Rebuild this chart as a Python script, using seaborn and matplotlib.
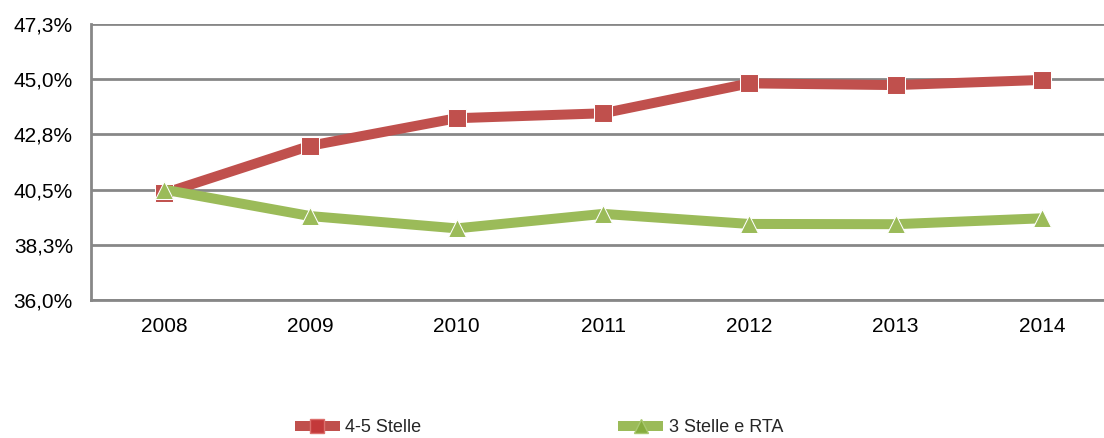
import matplotlib
matplotlib.use("Agg")
import matplotlib.pyplot as plt
import seaborn as sns
import pandas as pd

# Share of presences by hotel category, 2008-2014
years = ["2008", "2009", "2010", "2011", "2012", "2013", "2014"]
stelle_4_5 = [40.35, 42.29, 43.41, 43.61, 44.83, 44.76, 44.97]
stelle_3_rta = [40.50, 39.42, 38.92, 39.51, 39.10, 39.09, 39.33]
series_names = ["4-5 Stelle", "3 Stelle e RTA"]

y_ticks = [36.0, 38.25, 40.5, 42.75, 45.0, 47.25]
y_tick_labels = ["36,0%", "38,3%", "40,5%", "42,8%", "45,0%", "47,3%"]

df = pd.DataFrame({
    "anno": years * 2,
    "quota": stelle_4_5 + stelle_3_rta,
    "categoria": [series_names[0]] * len(years) + [series_names[1]] * len(years),
})

sns.set_theme(style="white")
plt.rcParams["font.family"] = ["Liberation Sans", "DejaVu Sans"]

line_colors = {series_names[0]: "#C0504D", series_names[1]: "#9BBB59"}
face_colors = {series_names[0]: "#C3393A", series_names[1]: "#86AC3E"}
edge_colors = {series_names[0]: "#DC6F6C", series_names[1]: "#A9C870"}

fig = plt.figure(figsize=(11.04, 4.38), dpi=100)
ax = fig.add_axes([91 / 1104, 138 / 438, 1024 / 1104, 276 / 438])

sns.lineplot(
    data=df, x="anno", y="quota", hue="categoria", style="categoria",
    palette=line_colors, markers={series_names[0]: "s", series_names[1]: "^"},
    dashes=False, linewidth=7.2, markersize=12.5, sort=False, ax=ax,
    solid_capstyle="butt",
)

for line in ax.lines:
    lbl = line.get_label()
    if lbl in face_colors:
        line.set_markerfacecolor(face_colors[lbl])
        line.set_markeredgecolor(edge_colors[lbl])
        line.set_markeredgewidth(1.0)

ax.set_xlim(-0.5, len(years) - 0.5)
ax.set_ylim(y_ticks[0], y_ticks[-1])
ax.set_yticks(y_ticks)
ax.set_yticklabels(y_tick_labels)
ax.set_xlabel("")
ax.set_ylabel("")
ax.tick_params(axis="both", length=0, labelsize=15, colors="#000000")
ax.tick_params(axis="x", pad=12)
ax.tick_params(axis="y", pad=13)

ax.yaxis.grid(True, color="#878787", linewidth=2.0)
ax.set_axisbelow(True)
for side in ["top", "right"]:
    ax.spines[side].set_visible(False)
for side in ["left", "bottom"]:
    ax.spines[side].set_color("#878787")
    ax.spines[side].set_linewidth(2.0)

handles, labels = ax.get_legend_handles_labels()
ax.get_legend().remove()
for h in handles:
    h.set_solid_capstyle("butt")
fig.legend(
    handles, labels, loc="center", bbox_to_anchor=(0.488, 1 - 428 / 438),
    ncol=2, frameon=False, fontsize=13, handlelength=2.5, handletextpad=0.3,
    columnspacing=10.9, markerscale=0.8,
)

fig.savefig("out.png", dpi=100)
